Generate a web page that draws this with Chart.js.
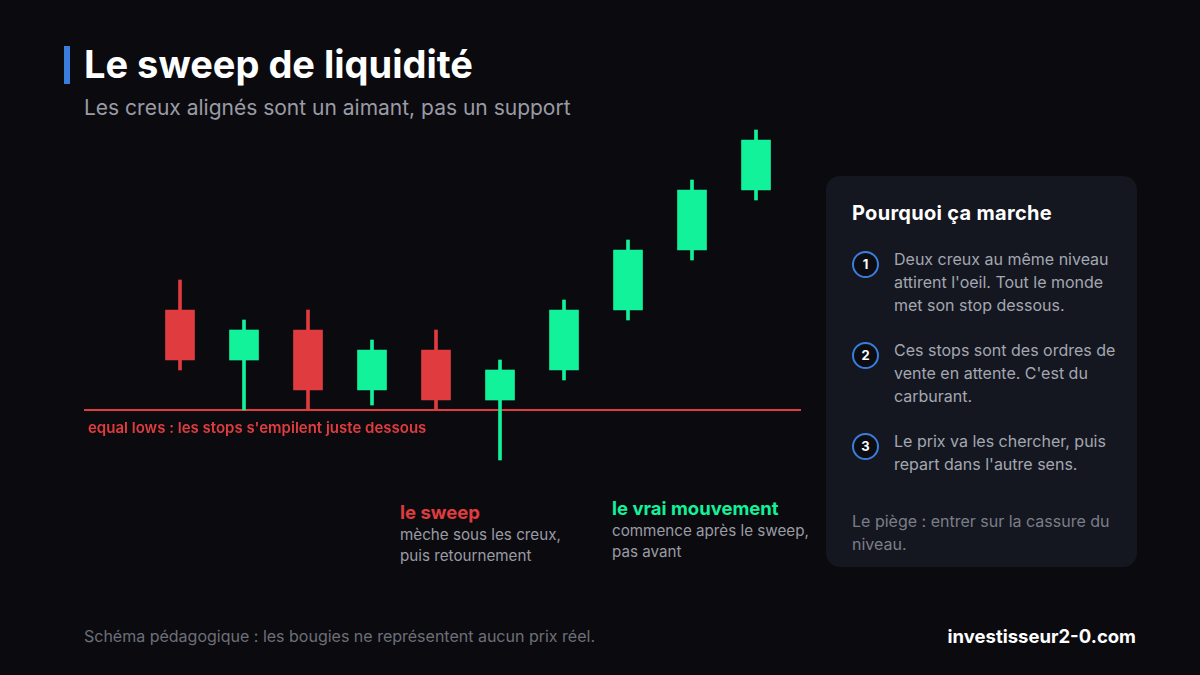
<!DOCTYPE html>
<html lang="fr">
<head>
<meta charset="utf-8">
<script src="https://cdn.jsdelivr.net/npm/chart.js@4"></script>
<style>
  html, body { margin: 0; padding: 0; }
  body {
    width: 1200px; height: 675px; background: #0b0b0f; position: relative;
    font-family: Inter, "Noto Sans", sans-serif; overflow: hidden;
  }
  .accent { position: absolute; left: 64px; top: 46px; width: 6px; height: 38px; background: #3b7ddd; }
  h1 { position: absolute; left: 84px; top: 41px; margin: 0; font-size: 38px; font-weight: 700; color: #fff; }
  .sub { position: absolute; left: 84px; top: 95px; font-size: 21px; color: #9a9ba5; }
  #chartBox { position: absolute; left: 84px; top: 120px; width: 717px; height: 360px; }
  .lows { position: absolute; left: 88px; top: 418px; font-size: 15px; font-weight: 600; color: #e03c3f; }
  .note { position: absolute; font-size: 15.2px; color: #9a9ba5; line-height: 21px; }
  .note b { display: block; font-size: 18.5px; font-weight: 700; line-height: 24px; }
  .panel {
    position: absolute; left: 826px; top: 176px; width: 311px; height: 391px;
    background: #141720; border-radius: 14px;
  }
  .panel h2 { position: absolute; left: 26px; top: 25px; margin: 0; font-size: 20px; font-weight: 700; color: #fff; letter-spacing: 0.3px; }
  .item { position: absolute; left: 68px; width: 228px; font-size: 16px; line-height: 23px; color: #a4a7b1; }
  .num {
    position: absolute; left: 26px; width: 23px; height: 23px; border: 2px solid #3b7ddd; border-radius: 50%;
    background: #0b0d13; color: #fff; font-size: 13px; font-weight: 700; text-align: center; line-height: 23px;
  }
  .trap { position: absolute; left: 26px; top: 334px; width: 270px; font-size: 16px; line-height: 23px; color: #7b7e88; }
  .foot { position: absolute; left: 84px; top: 626px; font-size: 16px; color: #6d6f78; }
  .brand { position: absolute; right: 64px; top: 625px; font-size: 18.5px; font-weight: 700; color: #fff; }
</style>
</head>
<body>
<div class="accent"></div>
<h1>Le sweep de liquidité</h1>
<div class="sub">Les creux alignés sont un aimant, pas un support</div>

<div id="chartBox"><canvas id="candles"></canvas></div>
<div class="lows">equal lows : les stops s'empilent juste dessous</div>

<div class="note" style="left:400px; top:500px;"><b style="color:#e03c3f">le sweep</b>mèche sous les creux,<br>puis retournement</div>
<div class="note" style="left:612px; top:496px;"><b style="color:#12f29a">le vrai mouvement</b>commence après le sweep,<br>pas avant</div>

<div class="panel">
  <h2>Pourquoi ça marche</h2>
  <div class="num" style="top:75px;">1</div>
  <div class="item" style="top:72px;">Deux creux au même niveau attirent l'oeil. Tout le monde met son stop dessous.</div>
  <div class="num" style="top:166px;">2</div>
  <div class="item" style="top:163px;">Ces stops sont des ordres de vente en attente. C'est du carburant.</div>
  <div class="num" style="top:257px;">3</div>
  <div class="item" style="top:254px;">Le prix va les chercher, puis repart dans l'autre sens.</div>
  <div class="trap">Le piège : entrer sur la cassure du niveau.</div>
</div>

<div class="foot">Schéma pédagogique : les bougies ne représentent aucun prix réel.</div>
<div class="brand">investisseur2-0.com</div>

<script>
// Candles (schematic prices, no real data)
const opens  = [110, 105, 108, 102, 106, 101, 104, 110, 116, 122];
const closes = [105, 108, 102, 106, 101, 104, 110, 116, 122, 127];
const highs  = [113, 109, 110, 107, 108, 105, 111, 117, 123, 128];
const lows   = [104, 100, 100, 100.5, 100, 95, 103, 109, 115, 121];
const equalLow = 100;

const RED = '#e03c3f';
const GREEN = '#12f29a';

const colors = opens.map((o, i) => closes[i] >= o ? GREEN : RED);
const bodies = opens.map((o, i) => ({ x: i, y: [Math.min(o, closes[i]), Math.max(o, closes[i])] }));
const wicks = lows.map((l, i) => ({ x: i, y: [l, highs[i]] }));

const ctx = document.getElementById('candles').getContext('2d');
const candleChart = new Chart(ctx, {
    type: 'bar',
    data: {
        datasets: [{
            data: bodies,
            backgroundColor: colors,
            barThickness: 29,
            borderSkipped: false,
            order: 1
        }, {
            data: wicks,
            backgroundColor: colors,
            barThickness: 3,
            borderSkipped: false,
            order: 2
        }, {
            type: 'line',
            data: [{ x: -1.5, y: equalLow }, { x: 9.703, y: equalLow }],
            borderColor: RED,
            borderWidth: 2,
            pointRadius: 0,
            order: 3
        }]
    },
    options: {
        responsive: true,
        maintainAspectRatio: false,
        animation: false,
        layout: { padding: 0 },
        plugins: { legend: { display: false }, tooltip: { enabled: false } },
        scales: {
            x: { type: 'linear', min: -1.5, max: 9.703, display: false, stacked: true, offset: false },
            y: { min: 93, max: 129, display: false }
        }
    }
});
</script>
</body>
</html>
